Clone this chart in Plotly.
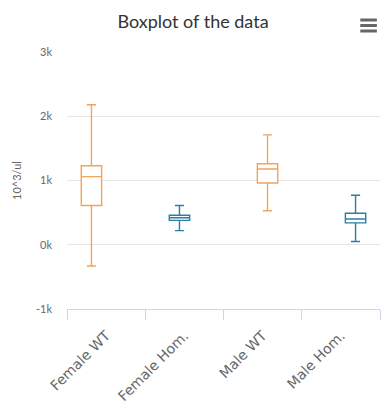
import plotly.graph_objects as go

categories = ["Female WT", "Female Hom.", "Male WT", "Male Hom."]
lower_fence = [-330, 220, 530, 50]
q1_vals = [610, 380, 960, 340]
median_vals = [1060, 420, 1180, 400]
q3_vals = [1230, 460, 1260, 490]
upper_fence = [2180, 610, 1710, 770]
colors = ["#f5a35c", "#2b7ea6", "#f5a35c", "#2b7ea6"]

y_tickvals = [-1000, 0, 1000, 2000, 3000]
y_ticktext = ["-1k", "0k", "1k", "2k", "3k"]

n = len(categories)
slot = 0.125  # grouped-series slot width (fraction of a category)

fig = go.Figure()
for i, cat in enumerate(categories):
    pos = i + (i - (n - 1) / 2) * slot
    fig.add_trace(go.Box(
        x=[pos],
        q1=[q1_vals[i]], median=[median_vals[i]], q3=[q3_vals[i]],
        lowerfence=[lower_fence[i]], upperfence=[upper_fence[i]],
        name=cat,
        width=0.26,
        whiskerwidth=0.45,
        line=dict(color=colors[i], width=1.4),
        fillcolor="white",
        boxpoints=False,
        showlegend=False,
    ))

title_font = "Lato, Open Sans, sans-serif"
axis_font = "Lato, Open Sans, sans-serif"
label_font = "DejaVu Sans, Verdana, sans-serif"

# hamburger (export menu) icon, decorative
menu_shapes = [
    dict(type="line", xref="paper", yref="paper", x0=0.937, x1=0.99, y0=yy, y1=yy,
         line=dict(color="#666666", width=3))
    for yy in (1.1245, 1.103, 1.0817)
]

fig.update_layout(
    width=386, height=405,
    margin=dict(l=67, r=6, t=52, b=96, autoexpand=False),
    paper_bgcolor="white", plot_bgcolor="white",
    boxmode="overlay",
    title=dict(text="Boxplot of the data", x=0.5, xanchor="center", xref="container",
               y=1 - 22 / 405, yref="container", yanchor="middle",
               font=dict(family=title_font, size=18, color="#333333")),
    xaxis=dict(
        range=[-0.5, n - 0.5],
        tickvals=list(range(n)), ticktext=categories,
        tickangle=-45, ticks="", automargin=False, ticklabelstandoff=12,
        tickfont=dict(family=label_font, size=14, color="#666666"),
        showgrid=False, zeroline=False,
        showline=True, linecolor="#ccd6eb", linewidth=1,
        minor=dict(tick0=-0.5, dtick=1, ticks="outside", ticklen=10, tickcolor="#ccd6eb", tickwidth=1, showgrid=False),
    ),
    yaxis=dict(
        range=[-1000, 3000], automargin=False,
        tickvals=y_tickvals, ticktext=y_ticktext,
        tickfont=dict(family=axis_font, size=11, color="#666666"),
        showgrid=True, gridcolor="#e6e6e6", gridwidth=1,
        zeroline=False, showline=False, ticks="", ticklabelstandoff=14,
        title=dict(text="10^3/ul", font=dict(family=axis_font, size=11, color="#666666"), standoff=12),
    ),
    shapes=menu_shapes,
)

fig.write_html("out.html", config={"displayModeBar": False},
               post_script="document.body.style.margin='0';")
